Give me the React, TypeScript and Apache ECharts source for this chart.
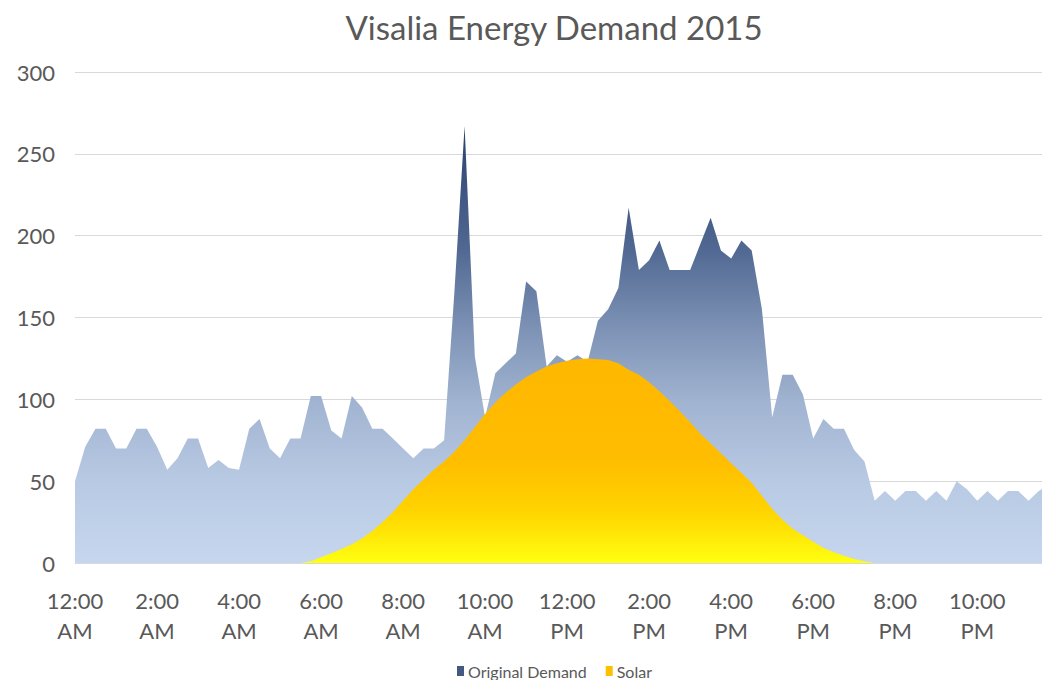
import React, { useEffect, useRef } from "react";
import * as echarts from "echarts";

// 15-minute intervals over one day
const hours = ["12", "1", "2", "3", "4", "5", "6", "7", "8", "9", "10", "11"];
const quarters = ["00", "15", "30", "45"];
const categories: string[] = [];
["AM", "PM"].forEach((ap) =>
  hours.forEach((h) => quarters.forEach((q) => categories.push(`${h}:${q} ${ap}`)))
);

const originalDemand = [
  50, 71, 82, 82, 70, 70, 82, 82, 71, 57,
  64, 76, 76, 58, 63, 58, 57, 82, 88, 70,
  64, 76, 76, 102, 102, 81, 76, 102, 95, 82,
  82, 76, 70, 64, 70, 70, 75, 165, 267, 126,
  89, 116, 122, 128, 172, 166, 120, 127, 123, 127,
  123, 148, 155, 168, 217, 179, 185, 197, 179, 179,
  179, 195, 211, 191, 186, 197, 191, 155, 89, 115,
  115, 103, 76, 88, 82, 82, 69, 62, 38, 44,
  38, 44, 44, 38, 44, 38, 50, 45, 38, 44,
  38, 44, 44, 38, 44, 48,
];

const solar = [
  0, 0, 0, 0, 0, 0, 0, 0, 0, 0,
  0, 0, 0, 0, 0, 0, 0, 0, 0, 0,
  0, 0, 0, 1, 3.5, 6, 8.5, 11.5, 15, 19.5,
  25, 31, 38, 45, 51, 57, 62, 68, 75, 83,
  91, 98, 104, 109, 113.5, 117, 120, 122, 123.5, 124.5,
  125, 124.5, 124, 122, 118, 115, 110.5, 105, 99, 92.5,
  86, 79, 73, 67, 61, 55, 49, 41, 33, 26.5,
  21, 17, 13, 9.2, 6.5, 4.5, 2.5, 1, 0, 0,
  0, 0, 0, 0, 0, 0, 0, 0, 0, 0,
  0, 0, 0, 0, 0, 0,
];

const yTicks = { min: 0, max: 300, interval: 50 };

const FONT = "Lato, 'Open Sans', sans-serif";
const GREY = "#595959";

export default function App() {
  const ref = useRef<HTMLDivElement>(null);

  useEffect(() => {
    document.body.style.margin = "0";
    document.body.style.overflow = "hidden";
    if (!ref.current) return;
    const chart = echarts.init(ref.current, undefined, { renderer: "svg" });

    const demandGradient = new echarts.graphic.LinearGradient(0, 0, 0, 1, [
      { offset: 0, color: "#2a426e" },
      { offset: 0.27, color: "#4e6690" },
      { offset: 0.47, color: "#7e93b6" },
      { offset: 0.63, color: "#a0b3d0" },
      { offset: 0.81, color: "#b8c9e3" },
      { offset: 1, color: "#c6d6ee" },
    ]);
    const solarGradient = new echarts.graphic.LinearGradient(0, 0, 0, 1, [
      { offset: 0, color: "#ffb700" },
      { offset: 0.5, color: "#ffbd00" },
      { offset: 0.75, color: "#ffd400" },
      { offset: 1, color: "#ffff10" },
    ]);

    chart.setOption({
      animation: false,
      backgroundColor: "#ffffff",
      title: {
        text: "Visalia Energy Demand 2015",
        left: 549,
        top: 5,
        textAlign: "center",
        textStyle: {
          fontFamily: FONT,
          fontSize: 33,
          fontWeight: "normal",
          color: GREY,
        },
      },
      legend: {
        left: 457,
        top: 663,
        padding: 0,
        itemWidth: 7,
        itemHeight: 10,
        itemGap: 19,
        icon: "rect",
        textStyle: { fontFamily: FONT, fontSize: 16, color: GREY, padding: [0, 0, 0, -1] },
        data: [
          { name: "Original Demand", itemStyle: { color: "#44597f" } },
          { name: "Solar", itemStyle: { color: "#ffc000" } },
        ],
      },
      grid: { left: 75, top: 72, right: 0, bottom: 117, containLabel: false },
      xAxis: {
        type: "category",
        data: categories,
        boundaryGap: false,
        axisLine: { show: true, lineStyle: { color: "#d9d9d9" } },
        axisTick: { show: false },
        splitLine: { show: false },
        axisLabel: {
          interval: 7,
          margin: 22,
          fontFamily: FONT,
          fontSize: 22,
          lineHeight: 30,
          color: GREY,
          formatter: (v: string) => v.replace(" ", "\n"),
        },
      },
      yAxis: {
        type: "value",
        min: yTicks.min,
        max: yTicks.max,
        interval: yTicks.interval,
        axisLine: { show: false },
        axisTick: { show: false },
        splitLine: { lineStyle: { color: "#d9d9d9", width: 1 } },
        axisLabel: {
          margin: 20,
          fontFamily: FONT,
          fontSize: 22,
          color: GREY,
        },
      },
      series: [
        {
          name: "Original Demand",
          type: "line",
          data: originalDemand,
          symbol: "none",
          lineStyle: { width: 0 },
          itemStyle: { color: "#44597f" },
          areaStyle: { color: demandGradient, opacity: 1 },
          z: 2,
        },
        {
          name: "Solar",
          type: "line",
          data: solar,
          symbol: "none",
          lineStyle: { width: 0 },
          itemStyle: { color: "#ffc000" },
          areaStyle: { color: solarGradient, opacity: 1 },
          z: 3,
        },
      ],
    });

    return () => chart.dispose();
  }, []);

  return (
    <div style={{ width: 1042, height: 680, overflow: "hidden", position: "relative" }}>
      <div ref={ref} style={{ width: 1049, height: 680 }} />
    </div>
  );
}
